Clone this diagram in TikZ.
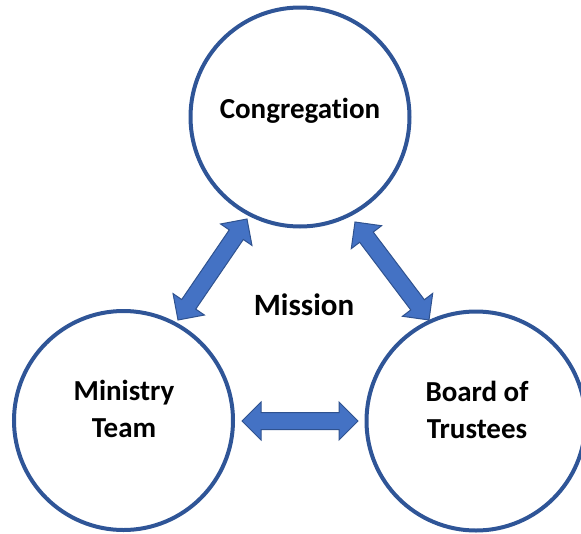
\documentclass[tikz,border=0pt]{standalone}
\usepackage{fontspec}
\setmainfont{Carlito}[Ligatures=NoCommon]
\usetikzlibrary{calc}
\definecolor{ringblue}{HTML}{2F5597}
\definecolor{arrfill}{HTML}{4472C4}
\definecolor{arredge}{HTML}{2F528F}
\tikzset{
  ring/.style={circle, draw=ringblue, line width=4pt, minimum size=219pt, inner sep=0pt},
  lbl/.style={font=\fontsize{29}{37}\selectfont\bfseries, align=center, inner sep=0pt},
  biglbl/.style={lbl, font=\fontsize{31}{37}\selectfont\bfseries},
  arrowst/.style={fill=arrfill, draw=arredge, line width=1pt, line join=miter}
}
\newcommand{\dblarr}[2]{%
\draw[arrowst] (#1)
 -- ($(#1)!19pt!(#2)!19pt!90:(#2)$)
 -- ($(#1)!19pt!(#2)!8.5pt!90:(#2)$)
 -- ($(#2)!19pt!(#1)!8.5pt!-90:(#1)$)
 -- ($(#2)!19pt!(#1)!19pt!-90:(#1)$)
 -- (#2)
 -- ($(#2)!19pt!(#1)!19pt!90:(#1)$)
 -- ($(#2)!19pt!(#1)!8.5pt!90:(#1)$)
 -- ($(#1)!19pt!(#2)!8.5pt!-90:(#2)$)
 -- ($(#1)!19pt!(#2)!19pt!-90:(#2)$)
 -- cycle;}
\begin{document}
\begin{tikzpicture}[x=1pt,y=-1pt]
\useasboundingbox (0,0) rectangle (581,533);
\node[ring] (cong) at (300,117) {};
\node[ring] (mini) at (123.5,420.5) {};
\node[ring] (board) at (476,421) {};
\node[lbl, anchor=base] (tcong) at (300,118) {Congregation};
\node[biglbl, anchor=base] (tmis) at (304,315) {Mission};
\node[lbl, anchor=base] (tmini) at (124,437) {Ministry\\Team};
\node[lbl, anchor=base] (tboard) at (477,438) {Board of\\Trustees};
\coordinate (a1) at (247,219);
\coordinate (a2) at (178,320);
\coordinate (b1) at (355,222);
\coordinate (b2) at (429,320);
\coordinate (c1) at (242,421);
\coordinate (c2) at (358,421);
\dblarr{a1}{a2}
\dblarr{b1}{b2}
\dblarr{c1}{c2}
\end{tikzpicture}
\end{document}
